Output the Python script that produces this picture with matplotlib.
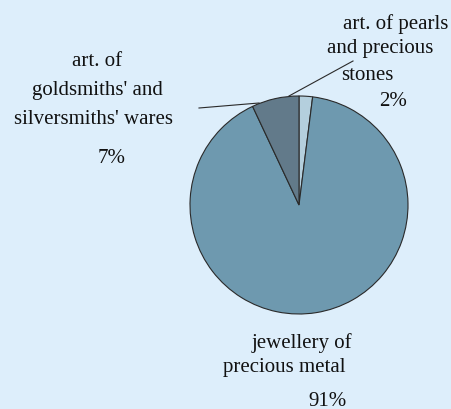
import matplotlib.pyplot as plt

# share of each article group, drawn clockwise from the top
categories = ["art. of pearls and precious stones",
              "jewellery of precious metal",
              "art. of goldsmiths' and silversmiths' wares"]
shares = [2, 91, 7]
colours = ["#b4cfdd", "#6e99af", "#627a8a"]

W, H = 452, 410
fig = plt.figure(figsize=(W / 100, H / 100), dpi=100, facecolor="#ddeefb")
ax = fig.add_axes([0, 0, 1, 1])
ax.set_xlim(0, W)
ax.set_ylim(0, H)
ax.axis("off")

ax.pie(shares, colors=colours, startangle=90, counterclock=False,
       center=(299, H - 206), radius=109,
       wedgeprops=dict(edgecolor="#2a2a2a", linewidth=0.8))
ax.set_xlim(0, W)
ax.set_ylim(0, H)

font = dict(family="Liberation Serif", fontsize=15, color="#111111",
            ha="center", va="center")

# pearls label, top right
ax.text(396, H - 24, "art. of pearls", **font)
ax.text(380, H - 49, "and precious", **font)
ax.text(367, H - 75, "stones", **font)
ax.text(393, H - 101, f"{shares[0]}%", **font)
ax.plot([289, 353], [H - 97, H - 62], color="#2a2a2a", lw=0.8)

# goldsmiths label, left
ax.text(97, H - 61, "art. of", **font)
ax.text(97, H - 91, "goldsmiths' and", **font)
ax.text(94, H - 120, "silversmiths' wares", **font)
ax.text(112, H - 159, f"{shares[2]}%", **font)
ax.plot([199, 259], [H - 109, H - 104], color="#2a2a2a", lw=0.8)

# jewellery label, bottom
ax.text(302, H - 343, "jewellery of", **font)
ax.text(284, H - 368, "precious metal", **font)
ax.text(328, H - 402, f"{shares[1]}%", **font)

fig.savefig("out.png", dpi=100, facecolor=fig.get_facecolor())
